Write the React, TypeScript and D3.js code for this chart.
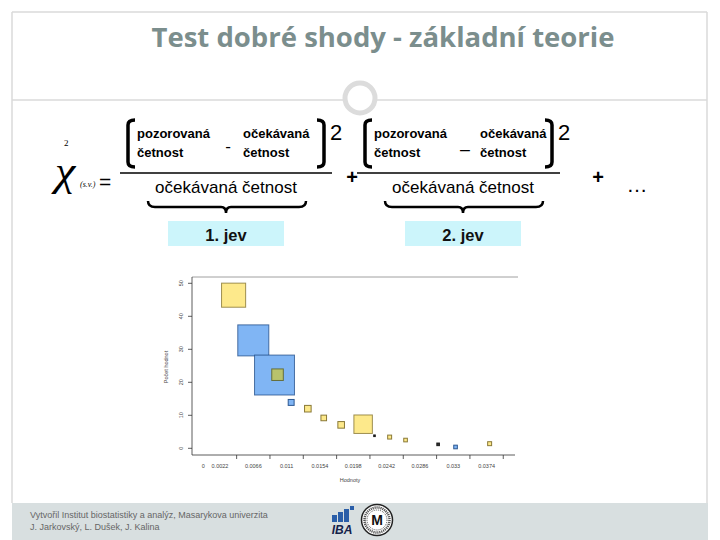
import React from "react";
import * as d3 from "d3";

// ---- data ----
const hodnoty = [0.004, 0.0066, 0.0094, 0.0098, 0.0116, 0.0138, 0.0159, 0.0182, 0.0211, 0.0226, 0.0246, 0.0267, 0.031, 0.0333, 0.0378];
const pocty = [46.4, 32.7, 22.2, 22.3, 13.9, 12.0, 9.2, 7.1, 7.3, 3.8, 3.4, 2.5, 1.2, 0.4, 1.4];
const velikost = [7.3, 9.4, 12.1, 3.5, 1.8, 2.0, 1.7, 2.0, 5.6, 0.5, 1.2, 1.1, 0.8, 1.1, 1.2];
const druh = ["y", "b", "b", "o", "b", "y", "y", "y", "y", "k", "y", "y", "k", "b", "y"];
const xTickLabels = [0, 0.0022, 0.0066, 0.011, 0.0154, 0.0198, 0.0242, 0.0286, 0.033, 0.0374];
const xTickMarks = [0.0044, 0.0088, 0.0132, 0.0176, 0.022, 0.0264, 0.0308, 0.0352, 0.0396];
const yTicks = [0, 10, 20, 30, 40, 50];

const title = "Test dobré shody - základní teorie";
const footer1 = "Vytvořil Institut biostatistiky a analýz, Masarykova univerzita";
const footer2 = "J. Jarkovský, L. Dušek, J. Kalina";

const fills: Record<string, string> = { y: "#fde98b", b: "#80b5f4", o: "#b8c26c", k: "#333333" };
const strokes: Record<string, string> = { y: "#7d6c28", b: "#1d4a86", o: "#5e6630", k: "#111111" };

const x = d3.scaleLinear().domain([0, 0.0374]).range([203.3, 486.6]);
const y = d3.scaleLinear().domain([0, 50]).range([448.3, 283.3]);

const GRAY = "#dadada";

function Fraction({ cx, second }: { cx: number; second?: boolean }) {
  const lb = cx - 98;
  const rb = second ? cx + 89 : cx + 98;
  const bw = 7;
  const top = 120;
  const bot = 167;
  const brace = d3.path();
  const bl = cx - 78, br = cx + 80, bt = 201, bm = 207, bp = 213;
  brace.moveTo(bl, bt);
  brace.quadraticCurveTo(bl, bm, bl + 7, bm);
  brace.lineTo(cx - 5, bm);
  brace.quadraticCurveTo(cx, bm, cx, bp);
  brace.quadraticCurveTo(cx, bm, cx + 5, bm);
  brace.lineTo(br - 7, bm);
  brace.quadraticCurveTo(br, bm, br, bt);
  return (
    <g fontFamily="'Liberation Sans', Arial, sans-serif" fill="#000">
      <path d={`M${lb + bw},${top} Q${lb},${top} ${lb},${top + 5} L${lb},${bot - 5} Q${lb},${bot} ${lb + bw},${bot}`} fill="none" stroke="#000" strokeWidth={3.5} />
      <path d={`M${rb - bw},${top} Q${rb},${top} ${rb},${top + 5} L${rb},${bot - 5} Q${rb},${bot} ${rb - bw},${bot}`} fill="none" stroke="#000" strokeWidth={3.5} />
      <text x={lb + 9} y={138} fontSize={13} fontWeight="bold">pozorovaná</text>
      <text x={lb + 9} y={157} fontSize={13} fontWeight="bold">četnost</text>
      <text x={cx + 17} y={138} fontSize={13} fontWeight="bold" textAnchor="start">očekávaná</text>
      <text x={cx + 17} y={157} fontSize={13} fontWeight="bold">četnost</text>
      <text x={cx + 2} y={second ? 148 : 152} fontSize={17} textAnchor="middle">{second ? "_" : "-"}</text>
      <text x={rb + 6} y={140} fontSize={22}>2</text>
      <line x1={lb - 8} x2={rb + 8} y1={173} y2={173} stroke="#000" strokeWidth={1.5} />
      <text x={cx} y={193} fontSize={17} textAnchor="middle">očekávaná četnost</text>
      <path d={brace.toString()} fill="none" stroke="#000" strokeWidth={2.5} />
      <rect x={cx - 58} y={221} width={116} height={25} fill="#ccf5fb" />
      <text x={cx} y={241} fontSize={16.5} fontWeight="bold" textAnchor="middle" fill="#111">{second ? "2. jev" : "1. jev"}</text>
    </g>
  );
}

export default function App() {
  const order = d3.range(hodnoty.length);
  return (
    <svg width={720} height={540} style={{ position: "absolute", left: 0, top: 0, background: "#fff" }}>
      {/* slide frame */}
      <rect x={0} y={0} width={720} height={540} fill="#fff" />
      <line x1={12} x2={707} y1={12} y2={12} stroke={GRAY} strokeWidth={1.5} />
      <line x1={12} x2={12} y1={12} y2={503} stroke={GRAY} strokeWidth={1.5} />
      <line x1={707} x2={707} y1={12} y2={503} stroke={GRAY} strokeWidth={1.5} />
      <line x1={12} x2={707} y1={100} y2={100} stroke={GRAY} strokeWidth={1.5} />
      <circle cx={360} cy={98} r={15} fill="#fff" stroke="#dcdcdc" strokeWidth={5} />
      <text x={383} y={47} textAnchor="middle" fontFamily="'Open Sans', sans-serif" fontWeight="bold" fontSize={26} fill="#7b8e8d" textLength={463} lengthAdjust="spacingAndGlyphs">{title}</text>

      {/* chi-square */}
      <g fontFamily="'Liberation Serif', 'DejaVu Serif', serif">
        <text transform="translate(55,185) scale(1.15,1)" fontSize={40} fontStyle="italic">χ</text>
        <text x={64} y={146} fontSize={9}>2</text>
        <text x={80} y={187} fontSize={8} fontStyle="italic">(s.v.)</text>
      </g>
      <text x={99} y={189} fontSize={21} fontFamily="'Liberation Sans', Arial, sans-serif">=</text>

      <Fraction cx={226} />
      <Fraction cx={463} second />
      <text x={352} y={184} fontSize={20} fontWeight="bold" textAnchor="middle" fontFamily="'Liberation Sans', Arial, sans-serif">+</text>
      <text x={598} y={184} fontSize={20} fontWeight="bold" textAnchor="middle" fontFamily="'Liberation Sans', Arial, sans-serif">+</text>
      <text x={637} y={192} fontSize={21} textAnchor="middle" fontFamily="'Liberation Sans', Arial, sans-serif">…</text>

      {/* chart */}
      <g fontFamily="'Liberation Sans', Arial, sans-serif" fill="#444">
        <line x1={192} x2={518} y1={277} y2={277} stroke="#888" strokeWidth={0.8} />
        <line x1={192} x2={192} y1={277} y2={455} stroke="#333" strokeWidth={0.8} />
        <line x1={192} x2={515} y1={455} y2={455} stroke="#333" strokeWidth={0.8} />
        {yTicks.map((t) => (
          <g key={"yt" + t}>
            <line x1={188} x2={192} y1={y(t)} y2={y(t)} stroke="#333" strokeWidth={0.8} />
            <text transform={`translate(183,${y(t)}) rotate(-90)`} textAnchor="middle" fontSize={5.5}>{t}</text>
          </g>
        ))}
        {xTickMarks.map((t) => (
          <line key={"xt" + t} x1={x(t)} x2={x(t)} y1={455} y2={459} stroke="#333" strokeWidth={0.8} />
        ))}
        {xTickLabels.map((t) => (
          <text key={"xl" + t} x={x(t)} y={468} textAnchor="middle" fontSize={5.5}>{String(t)}</text>
        ))}
        <text transform={`translate(168,367) rotate(-90)`} textAnchor="middle" fontSize={5.5}>Počet hodnot</text>
        <text x={350} y={482} textAnchor="middle" fontSize={5.5}>Hodnoty</text>
        {order.map((i) => {
          const s = y(0) - y(velikost[i]);
          return (
            <rect
              key={"sq" + i}
              x={x(hodnoty[i]) - s / 2}
              y={y(pocty[i]) - s / 2}
              width={s}
              height={s}
              fill={fills[druh[i]]}
              stroke={strokes[druh[i]]}
              strokeWidth={1}
              strokeOpacity={s > 15 ? 0.75 : 0.9}
            />
          );
        })}
      </g>

      {/* footer */}
      <rect x={12} y={503} width={696} height={37} fill="#d8dfe0" />
      <g fontFamily="'Liberation Sans', Arial, sans-serif" fontSize={9} fill="#666">
        <text x={30} y={518}>{footer1}</text>
        <text x={30} y={530}>{footer2}</text>
      </g>
      {/* IBA logo */}
      <g>
        <rect x={332} y={515} width={5} height={7} fill="#2a5ea8" />
        <rect x={338} y={512} width={5} height={10} fill="#2a5ea8" />
        <rect x={344} y={509} width={5} height={13} fill="#2a5ea8" />
        <rect x={350} y={506} width={4} height={4} fill="#2a5ea8" />
        <text x={342} y={534} textAnchor="middle" fontFamily="'Liberation Sans', Arial, sans-serif" fontWeight="bold" fontStyle="italic" fontSize={12} fill="#14224a">IBA</text>
      </g>
      {/* university seal */}
      <g>
        <circle cx={377} cy={520} r={15.5} fill="#fff" stroke="#222" strokeWidth={1.5} />
        <circle cx={377} cy={520} r={10} fill="none" stroke="#222" strokeWidth={0.8} strokeDasharray="1 1" />
        <circle cx={377} cy={520} r={12.5} fill="none" stroke="#555" strokeWidth={2.5} strokeDasharray="1.2 0.8" />
        <text x={377} y={525} textAnchor="middle" fontFamily="'Liberation Sans', Arial, sans-serif" fontWeight="bold" fontSize={14} fill="#111">M</text>
      </g>
    </svg>
  );
}
